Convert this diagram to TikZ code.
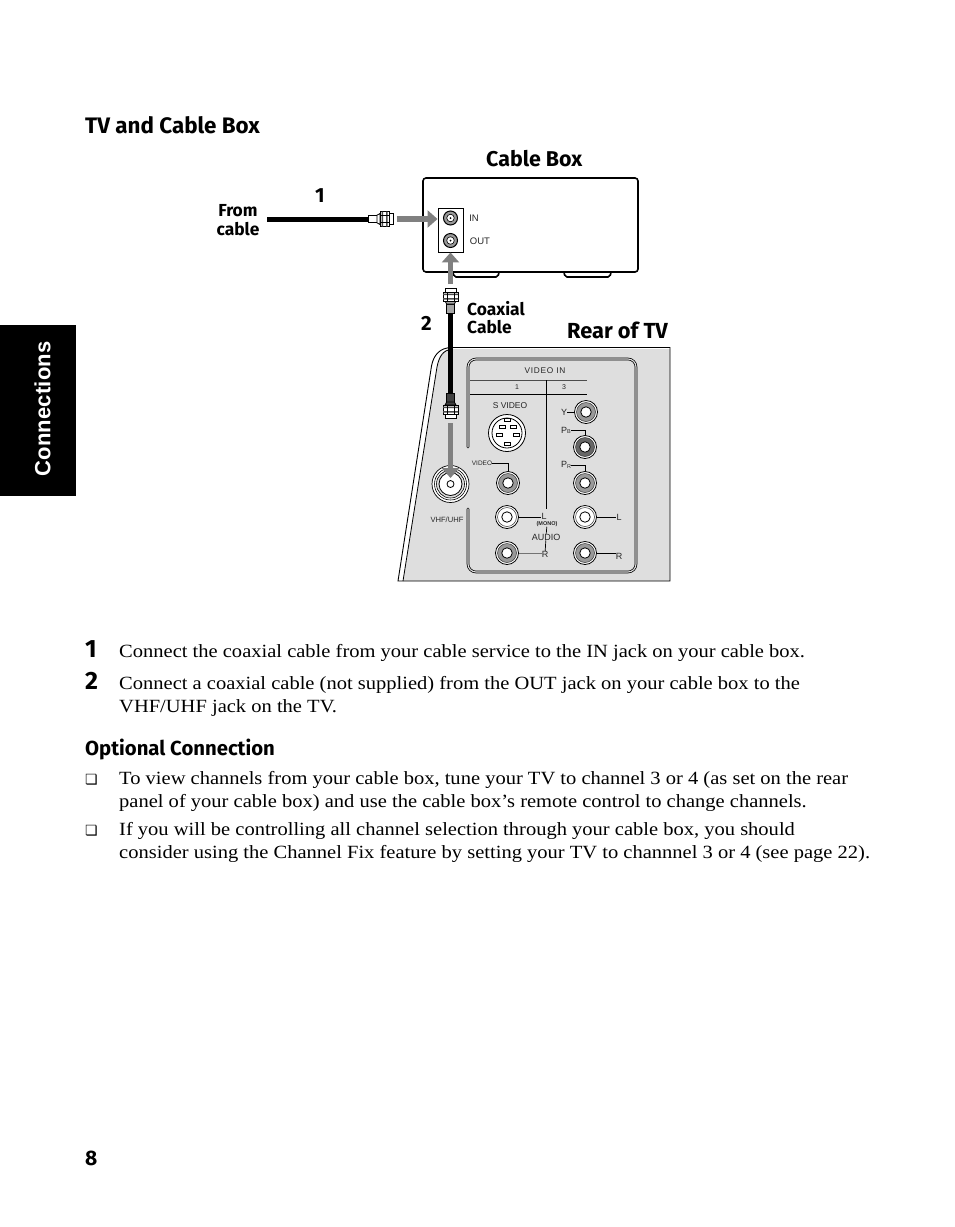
\documentclass[tikz,border=0pt]{standalone}
\usepackage{fontspec}
\setmainfont[FakeStretch=1.1]{Liberation Serif}
\newfontfamily\headf{Fira Sans}
\newfontfamily\diagf{Liberation Sans}
\newfontfamily\tabf[LetterSpace=1]{Liberation Sans}
\newfontfamily\symf{DejaVu Sans}
\usetikzlibrary{arrows.meta}
\definecolor{panelgray}{gray}{0.87}
\definecolor{arrowgray}{gray}{0.5}
\definecolor{ringgray}{gray}{0.6}
\definecolor{inktext}{gray}{0.15}
\tikzset{
  x=1pt,y=-1pt,
  lab/.style={inner sep=0pt,text=inktext,font=\diagf\fontsize{#1}{#1}\selectfont},
  head/.style={inner sep=0pt,anchor=base west,font=\headf\bfseries\fontsize{#1}{#1}\selectfont},
  diaglab/.style={inner sep=0pt,font=\headf\bfseries\fontsize{17.4}{17.4}\selectfont},
  body/.style={inner sep=0pt,anchor=base west,font=\fontsize{18.65}{18.65}\selectfont},
  bullet/.style={inner sep=0pt,anchor=base west,font=\symf\fontsize{14}{14}\selectfont},
  cable/.style={draw=black,line width=5pt},
  flow/.style={draw=arrowgray,line width=5.5pt,-{Triangle[width=17pt,length=10pt]}},
  thin line/.style={draw=black,line width=0.7pt},
  plate/.style={draw=black,line width=2.6pt,rounded corners=8pt,line cap=round},
  plate in/.style={draw=panelgray,line width=1.1pt,rounded corners=8pt,line cap=round},
}
% RCA jack: name, centre, ring colour
\newcommand\rcajack[3]{%
  \node[circle,draw=black,fill=white,line width=0.8pt,minimum size=23pt,inner sep=0pt] (#1) at (#2) {};
  \node[circle,draw=black!80,fill=#3,line width=0.5pt,minimum size=19pt,inner sep=0pt] at (#1) {};
  \node[circle,draw=black,fill=white,line width=0.8pt,minimum size=10.5pt,inner sep=0pt] at (#1) {};
}
% small coax jack
\newcommand\coaxjack[2]{%
  \node[circle,draw=black,fill=ringgray,line width=1pt,minimum size=14pt,inner sep=0pt] (#1) at (#2) {};
  \node[circle,draw=black,fill=white,line width=0.6pt,minimum size=7.5pt,inner sep=0pt] at (#1) {};
  \node[circle,fill=black,minimum size=2pt,inner sep=0pt] at (#1) {};
}
% F plug, from cable end to tip along local +x; neck colour
\newcommand\fplug[3]{%
  \begin{scope}[shift={(#1)},rotate=#2,line width=0.8pt]
    \draw[fill=#3] (0,-3.8) rectangle (9,3.8);
    \draw[fill=#3] (9,-3.8) -- (12,-5.5) -- (12,5.5) -- (9,3.8) -- cycle;
    \draw[fill=white] (12,-7.5) rectangle (21,7.5);
    \draw[fill=white] (21,-5.5) rectangle (25,5.5);
    \fill[black!70] (13.5,-7.5) rectangle (15,7.5) (18,-7.5) rectangle (19.5,7.5);
    \draw (12,-3.5) -- (21,-3.5) (12,3.5) -- (21,3.5);
  \end{scope}
}
\begin{document}
\begin{tikzpicture}
\useasboundingbox (0,0) rectangle (954,1227);
% side tab
\fill[black] (0,325) rectangle (76,496);
\node[inner sep=0pt,text=white,rotate=90,font=\tabf\bfseries\fontsize{22}{22}\selectfont] (tabtext) at (42.5,409) {Connections};
% heading
\node[head=22.4] (h1) at (85,133) {TV and Cable Box};
\node[head=21.4] (cbtitle) at (486,166) {Cable Box};
\node[head=21.8] (rtitle) at (567,338) {Rear of TV};
\node[head=20.5] (n1) at (315,202) {1};
\node[head=20.5] (n2) at (421,330) {2};
\node[diaglab] (from) at (238,211) {From};
\node[diaglab] (cabl) at (238,229) {cable};
\node[diaglab,anchor=base west] (coax1) at (467,315) {Coaxial};
\node[diaglab,anchor=base west] (coax2) at (467,333) {Cable};
% cable box
\draw[line width=1.6pt,rounded corners=2pt,fill=white] (453,272) -- (454,277) -- (498,277) -- (499,272);
\draw[line width=1.6pt,rounded corners=2pt,fill=white] (564,272) -- (565,277) -- (610,277) -- (611,272);
\draw[line width=1.6pt,rounded corners=3pt] (423,178) rectangle (638,272);
\node[draw=black,fill=white,line width=0.9pt,inner sep=0pt,minimum width=25pt,minimum height=44pt] (jackpanel) at (450.5,230) {};
\coaxjack{injack}{450.5,218}
\coaxjack{outjack}{450.5,240.5}
\node[lab=9.5] (inlab) at (474,218.5) {IN};
\node[lab=9.5] (outlab) at (480,241) {OUT};
% TV panel
\fill[panelgray] (403,581) -- (437,365) .. controls (439,355) and (443,349) .. (452,349) -- (670,349) -- (670,581) -- cycle;
\draw[line width=0.9pt] (398,581) -- (431.5,366) .. controls (433.5,355) and (440,347.5) .. (452,347.5) -- (670,347.5) -- (670,581) -- cycle;
\draw[line width=0.8pt] (403,581) -- (437,367) .. controls (439,357) and (443,349.5) .. (452,349.5);
% inner plate
\foreach \s in {plate,plate in}{
  \draw[\s] (468,447) -- (468,359) -- (636,359) -- (636,572) -- (468,572) -- (468,509);
}
% header table
\node[inner sep=0pt,text=inktext,font=\diagf\addfontfeature{LetterSpace=9}\fontsize{8.3}{8.3}\selectfont] (vin) at (545,371) {VIDEO IN};
\coordinate (r1a) at (470,380); \coordinate (r1b) at (587,380);
\coordinate (r2a) at (470,394); \coordinate (r2b) at (587,394);
\draw[draw=black!70,line width=0.9pt] (r1a) -- (r1b);
\draw[thin line] (r2a) -- (r2b);
\node[lab=7] (c1) at (517,387) {1};
\node[lab=7] (c3) at (564,387) {3};
\coordinate (divtop) at (546,380); \coordinate (divbot) at (546,509);
\draw[thin line] (divtop) -- (divbot);
% s video
\node[lab=8.5] (svl) at (510,405.5) {S VIDEO};
\node[circle,draw=black,fill=white,line width=0.8pt,minimum size=37pt,inner sep=0pt] (sv) at (507,433) {};
\node[circle,draw=black,line width=0.8pt,minimum size=30pt,inner sep=0pt] (svi) at (sv) {};
\foreach \dx/\dy in {-5/-6,6/-6,-8/2,9/2,0/11,0/-13}
  \draw[line width=0.7pt,fill=white] ([shift={(\dx-3,\dy-1.5)}]sv.center) rectangle ([shift={(\dx+3,\dy+1.5)}]sv.center);
% vhf
\node[circle,draw=black,fill=white,line width=0.7pt,minimum size=37pt,inner sep=0pt] (vhf) at (450.5,484) {};
\node[circle,draw=black,fill=white,line width=0.6pt,minimum size=32pt,inner sep=0pt] at (vhf) {};
\node[circle,draw=black,fill=panelgray,line width=0.6pt,minimum size=28pt,inner sep=0pt] at (vhf) {};
\node[circle,draw=black,fill=white,line width=0.8pt,minimum size=23pt,inner sep=0pt] at (vhf) {};
\node[circle,draw=black,fill=white,line width=0.8pt,minimum size=7pt,inner sep=0pt] at (vhf) {};
\node[lab=7.6] (vhfl) at (447,519.5) {VHF/UHF};
% jack labels
\node[lab=9] (ly) at (564,412) {Y};
\node[lab=9,anchor=west] (lpb) at (561,430.5) {P\raisebox{-0.3pt}{\fontsize{5.5}{5.5}\selectfont B}};
\node[lab=9,anchor=west] (lpr) at (561,465) {P\raisebox{-0.3pt}{\fontsize{5.5}{5.5}\selectfont R}};
\node[lab=6.5] (lvid) at (482,463.5) {VIDEO};
\node[lab=9] (ll1) at (544,516) {L};
\node[inner sep=0pt,text=inktext,font=\diagf\bfseries\fontsize{5.5}{5.5}\selectfont] (lmono) at (547,524) {(MONO)};
\node[lab=9] (laud) at (546,537) {AUDIO};
\node[lab=9] (lr1) at (545,554.5) {R};
\node[lab=9] (ll3) at (619,517) {L};
\node[lab=9] (lr3) at (619,556) {R};
\coordinate (jy) at (586,412); \coordinate (jpb) at (585,447); \coordinate (jpr) at (585,483);
\coordinate (jl3) at (585,517); \coordinate (jr3) at (585,553);
\coordinate (jv1) at (508,483); \coordinate (jl1) at (507,517); \coordinate (jr1) at (507,553);
\draw[thin line] (ly) -- (jy);
\draw[thin line] (lpb) -| (jpb);
\draw[thin line] (lpr) -| (jpr);
\draw[thin line] (lvid) -| (jv1);
\draw[thin line] (jl1) -- (ll1.west|-jl1);
\draw[draw=black!55,line width=1pt] (jr1) -- (lr1.west|-jr1);
\draw[thin line] (jl3) -- (ll3.west|-jl3);
\draw[thin line] (jr3) -- (lr3.west|-jr3);
\draw[thin line] (lmono) -- (laud);
\draw[thin line] (laud) -- (lr1);
\rcajack{jacky}{586,412}{ringgray}
\rcajack{jackpb}{585,447}{black!60}
\rcajack{jackpr}{585,483}{ringgray}
\rcajack{jackl3}{585,517}{white}
\rcajack{jackr3}{585,553}{ringgray}
\rcajack{jackv1}{508,483}{ringgray}
\rcajack{jackl1}{507,517}{white}
\rcajack{jackr1}{507,553}{ringgray}
% cables and plugs
\coordinate (c1a) at (267,219); \coordinate (c1b) at (368,219);
\coordinate (c2a) at (450.5,313); \coordinate (c2b) at (450.5,393);
\draw[cable] (c1a) -- (c1b);
\draw[cable] (c2a) -- (c2b);
\fplug{c1b}{0}{white}
\fplug{c2a}{90}{black!35}
\fplug{c2b}{-90}{black!75}
% arrows
\coordinate (a1s) at (397,219);
\coordinate (a2s) at (450.5,284);
\coordinate (a3s) at (450.5,423);
\coordinate (a3e) at (450.5,478);
\draw[flow] (a1s) -- (jackpanel.west|-a1s);
\draw[flow] (a2s) -- (jackpanel.south);
\draw[flow] (a3s) -- (a3e);
% page text
\node[head=25] (s1) at (85,657) {1};
\node[body] (t1) at (119,657) {Connect the coaxial cable from your cable service to the IN jack on your cable box.};
\node[head=25] (s2) at (85,689) {2};
\node[body] (t2) at (119,689) {Connect a coaxial cable (not supplied) from the OUT jack on your cable box to the};
\node[body] (t3) at (119,712.5) {VHF/UHF jack on the TV.};
\node[head=20.3] (h2) at (85,755) {Optional Connection};
\node[bullet] (b1) at (85,784) {❏};
\node[body] (t4) at (119,784) {To view channels from your cable box, tune your TV to channel 3 or 4 (as set on the rear};
\node[body] (t5) at (119,807) {panel of your cable box) and use the cable box’s remote control to change channels.};
\node[bullet] (b2) at (85,835) {❏};
\node[body] (t6) at (119,835) {If you will be controlling all channel selection through your cable box, you should};
\node[body] (t7) at (119,858) {consider using the Channel Fix feature by setting your TV to channnel 3 or 4 (see page 22).};
\node[head=21] (pg) at (85,1165) {8};
\end{tikzpicture}
\end{document}
